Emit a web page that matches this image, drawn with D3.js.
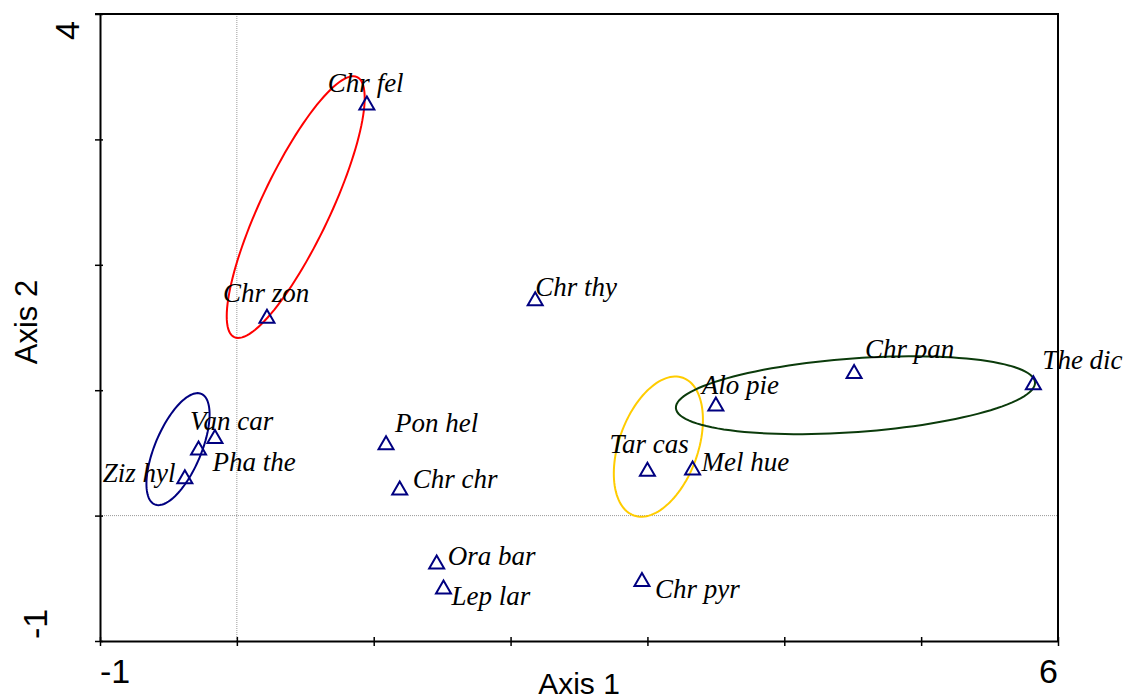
<!DOCTYPE html>
<html>
<head>
<meta charset="utf-8">
<script src="https://cdn.jsdelivr.net/npm/d3@7"></script>
<style>
  body { margin: 0; background: #fff; }
  svg { display: block; }
</style>
</head>
<body>
<svg></svg>
<script>
// species scores on the two ordination axes
let species = ['Chr fel', 'Chr zon', 'Chr thy', 'Chr pan', 'The dic', 'Alo pie', 'Tar cas', 'Mel hue',
               'Van car', 'Pha the', 'Ziz hyl', 'Pon hel', 'Chr chr', 'Ora bar', 'Lep lar', 'Chr pyr']
let axis1 = [0.95, 0.22, 2.18, 4.51, 5.82, 3.50, 3.00, 3.33, -0.16, -0.28, -0.38, 1.09, 1.19, 1.46, 1.51, 2.96]
let axis2 = [3.29, 1.59, 1.73, 1.15, 1.06, 0.89, 0.37, 0.38, 0.63, 0.54, 0.31, 0.58, 0.22, -0.37, -0.57, -0.51]

// group ellipses: centre and two conjugate half-axes, in axis units
let ellipseCx = [0.43, -0.43, 3.08, 4.52]
let ellipseCy = [2.46, 0.53, 0.55, 0.96]
let ellipseUx = [0.449, 0.170, 0.179, 1.312]
let ellipseUy = [1.037, 0.441, 0.549, 0.103]
let ellipseVx = [0.229, 0.156, 0.272, -0.019]
let ellipseVy = [-0.118, -0.071, -0.105, 0.293]

let xTicks = [-1, 0, 1, 2, 3, 4, 5, 6]
let yTicks = [-1, 0, 1, 2, 3, 4]
let xTickLabels = ['-1', '6']
let yTickLabels = ['4', '-1']

// layout / style (not data)
let ellipseColors = ['#ff0000', '#000080', '#ffcc00', '#0b3b0b']
let labelDx = [-39, -44, 0, 11, 9, -14, -38, 9, -25, 14, -82, 9, 13, 11, 8, 13]
let labelDy = [-11, -14, -3, -13, -14, -10, -16, 3, -7, 23, 5, -11, 0, 3, 18, 18]

let width = 1130
let height = 698
let plotLeft = 100, plotRight = 1058, plotTop = 14, plotBottom = 641

let svg = d3.select('svg').attr('width', width).attr('height', height)

let xScale = d3.scaleLinear().domain([-1, 6]).range([plotLeft, plotRight])
let yScale = d3.scaleLinear().domain([-1, 4]).range([plotBottom, plotTop])

// zero reference lines
svg.append('line')
   .attr('x1', xScale(0)).attr('x2', xScale(0))
   .attr('y1', plotTop).attr('y2', plotBottom)
   .attr('stroke', '#999').attr('stroke-width', 1).attr('stroke-dasharray', '1,1')
svg.append('line')
   .attr('x1', plotLeft).attr('x2', plotRight)
   .attr('y1', yScale(0)).attr('y2', yScale(0))
   .attr('stroke', '#999').attr('stroke-width', 1).attr('stroke-dasharray', '1,1')

// frame top and right
svg.append('path')
   .attr('d', 'M' + (plotLeft - 5) + ',' + plotTop + 'H' + plotRight + 'V' + plotBottom)
   .attr('fill', 'none').attr('stroke', '#000').attr('stroke-width', 2)

let xAxis = d3.axisBottom(xScale).tickValues(xTicks).tickFormat('').tickSizeOuter(0)
let gx = svg.append('g').attr('transform', 'translate(0,' + plotBottom + ')').call(xAxis)
gx.select('.domain').attr('stroke-width', 2)
gx.selectAll('.tick line').attr('y1', -4).attr('y2', 5).attr('stroke-width', 1.5)

let yAxis = d3.axisLeft(yScale).tickValues(yTicks).tickFormat('').tickSizeOuter(0)
let gy = svg.append('g').attr('transform', 'translate(' + plotLeft + ',0)').call(yAxis)
gy.select('.domain').attr('stroke-width', 2)
gy.selectAll('.tick line').attr('x1', -5).attr('x2', 3).attr('stroke-width', 1.5)

// tick labels only at the ends
let tickFont = '"Liberation Sans", Arial, sans-serif'
svg.append('text').text(xTickLabels[0])
   .attr('x', xScale(-1)).attr('y', 683)
   .attr('text-anchor', 'start').attr('font-family', tickFont).attr('font-size', 34)
svg.append('text').text(xTickLabels[1])
   .attr('x', xScale(6)).attr('y', 683)
   .attr('text-anchor', 'end').attr('font-family', tickFont).attr('font-size', 34)
svg.append('text').text(yTickLabels[0])
   .attr('transform', 'translate(79,' + (yScale(4) + 7) + ') rotate(-90)')
   .attr('text-anchor', 'end').attr('font-family', tickFont).attr('font-size', 34)
svg.append('text').text(yTickLabels[1])
   .attr('transform', 'translate(47,' + (yScale(-1) - 2) + ') rotate(-90)')
   .attr('text-anchor', 'start').attr('font-family', tickFont).attr('font-size', 34)

// axis titles
svg.append('text').text('Axis 1')
   .attr('x', (plotLeft + plotRight) / 2).attr('y', 694)
   .attr('text-anchor', 'middle').attr('font-family', tickFont).attr('font-size', 30)
svg.append('text').text('Axis 2')
   .attr('transform', 'translate(37,322) rotate(-90)')
   .attr('text-anchor', 'middle').attr('font-family', tickFont).attr('font-size', 31)

// ellipses
let ellipseLine = d3.line().curve(d3.curveLinearClosed)
ellipseCx.forEach((cx, i) => {
    let pts = d3.range(0, 360, 3).map((deg) => {
        let t = deg * Math.PI / 180
        return [xScale(cx + ellipseUx[i] * Math.cos(t) + ellipseVx[i] * Math.sin(t)),
                yScale(ellipseCy[i] + ellipseUy[i] * Math.cos(t) + ellipseVy[i] * Math.sin(t))]
    })
    svg.append('path')
       .attr('d', ellipseLine(pts))
       .attr('fill', 'none')
       .attr('stroke', ellipseColors[i])
       .attr('stroke-width', 2)
})

// labels
svg.selectAll('text.lab')
   .data(species)
   .enter()
   .append('text')
   .attr('class', 'lab')
   .attr('x', (d, i) => xScale(axis1[i]) + labelDx[i])
   .attr('y', (d, i) => yScale(axis2[i]) + labelDy[i])
   .attr('font-family', '"Liberation Serif", "Times New Roman", serif')
   .attr('font-style', 'italic')
   .attr('font-size', 27)
   .text((d) => d)

// triangle markers
svg.selectAll('path.pt')
   .data(species)
   .enter()
   .append('path')
   .attr('class', 'pt')
   .attr('d', 'M0,-6.5L7.5,6.5L-7.5,6.5Z')
   .attr('transform', (d, i) => 'translate(' + xScale(axis1[i]) + ',' + yScale(axis2[i]) + ')')
   .attr('fill', 'none')
   .attr('stroke', '#000080')
   .attr('stroke-width', 2)
</script>
</body>
</html>
